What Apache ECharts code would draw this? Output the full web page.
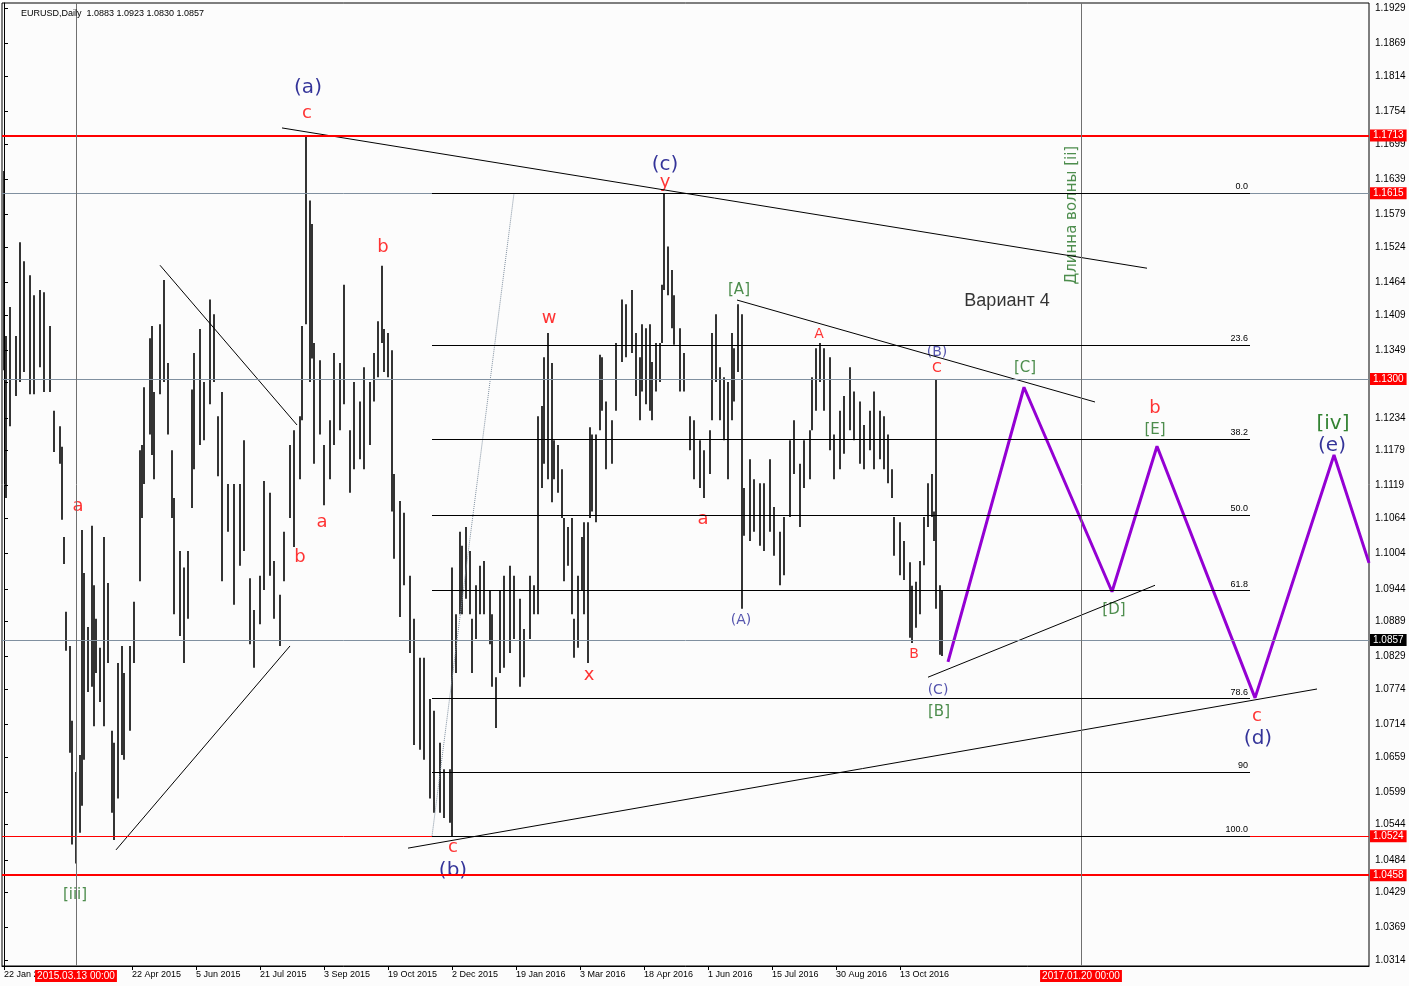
<!DOCTYPE html>
<html>
<head>
<meta charset="utf-8">
<script src="https://cdn.jsdelivr.net/npm/echarts@6/dist/echarts.min.js"></script>
<style>
html,body{margin:0;padding:0;background:#fcfcfc;}
#container{width:1409px;height:986px;}
</style>
</head>
<body>
<div id="container"></div>
<script>
// бары EURUSD Daily: индекс бара, максимум, минимум
var barIdx = [0,1,3,6,8,10,13,15,18,20,23,25,28,29,30,31,33,34,36,38,39,40,42,44,45,46,48,50,52,54,55,57,59,60,63,65,68,69,70,73,74,75,78,80,82,84,85,88,90,92,94,95,98,100,103,105,107,109,112,115,118,120,123,125,128,130,133,135,138,140,143,145,148,149,151,153,154,155,158,160,163,165,168,170,173,175,178,180,183,185,187,189,190,192,194,195,198,200,203,205,208,210,213,215,218,220,223,224,226,228,229,231,233,234,236,238,240,243,244,246,248,250,253,255,258,260,263,265,267,269,270,272,274,275,277,279,280,282,284,285,287,289,290,292,293,294,296,298,299,301,304,306,309,311,314,316,318,319,321,323,324,326,328,329,330,332,334,335,338,340,343,345,348,350,353,354,356,358,360,362,364,365,367,369,370,373,375,378,380,383,385,388,390,393,395,398,400,403,404,406,408,410,413,415,418,420,423,425,428,430,433,435,438,440,442,444,445,448,450,453,454,456,458,460,462,464,465,466,468,469];
var barHigh = [1.1653,1.1373,1.1422,1.1373,1.1532,1.1500,1.1476,1.1442,1.1451,1.1447,1.1390,1.1246,1.1220,1.1185,1.1032,1.0905,1.0847,1.0720,1.0633,1.0662,1.1044,1.0971,1.0879,1.1051,1.0950,1.0893,1.0844,1.1032,1.0954,1.0703,1.0683,1.0818,1.0847,1.0801,1.0847,1.0922,1.1179,1.1188,1.1286,1.1369,1.1390,1.1278,1.1393,1.1468,1.1327,1.1179,1.1098,1.1008,1.0980,1.1008,1.1282,1.1344,1.1385,1.1295,1.1435,1.1410,1.1237,1.1278,1.1122,1.1122,1.1122,1.1196,1.0962,1.0908,1.0966,1.1127,1.1107,1.0991,1.0934,1.1041,1.1188,1.1213,1.1237,1.1390,1.1714,1.1603,1.1563,1.1361,1.1332,1.1188,1.1230,1.1344,1.1327,1.1460,1.1213,1.1295,1.1262,1.1320,1.1295,1.1344,1.1398,1.1492,1.1385,1.1378,1.1349,1.1139,1.1093,1.1073,1.0966,1.0893,1.0827,1.0827,1.0757,1.0737,1.0683,1.0638,1.0638,1.0980,1.0901,1.1041,1.1017,1.1049,1.1008,1.0893,1.0950,1.0983,1.0991,1.0942,1.0901,1.0794,1.0942,1.0966,1.0983,1.0966,1.0927,1.0876,1.0966,1.0950,1.1237,1.1254,1.1337,1.1378,1.1327,1.1196,1.1188,1.1147,1.1064,1.1049,1.1064,1.0893,1.0966,1.1032,1.1057,1.1057,1.1218,1.1206,1.1206,1.1341,1.1337,1.1262,1.1230,1.1361,1.1435,1.1427,1.1451,1.1378,1.1337,1.1393,1.1386,1.1393,1.1329,1.1361,1.1361,1.1460,1.1615,1.1525,1.1485,1.1442,1.1386,1.1344,1.1237,1.1230,1.1196,1.1179,1.1213,1.1378,1.1410,1.1320,1.1303,1.1295,1.1378,1.1352,1.1427,1.1410,1.1115,1.1164,1.1130,1.1123,1.1123,1.1164,1.1083,1.1041,1.1066,1.1196,1.1230,1.1156,1.1196,1.1213,1.1303,1.1352,1.1361,1.1352,1.1337,1.1206,1.1246,1.1271,1.1320,1.1279,1.1262,1.1222,1.1246,1.1279,1.1246,1.1237,1.1206,1.1147,1.1066,1.1057,1.1025,1.0989,1.0949,1.0956,1.0991,1.1066,1.1123,1.1139,1.1075,1.1300,1.0950,1.0942];
var barLow = [1.1315,1.1098,1.1220,1.1271,1.1295,1.1312,1.1274,1.1274,1.1320,1.1278,1.1278,1.1176,1.1156,1.1061,1.0986,1.0839,1.0666,1.0510,1.0478,1.0530,1.0576,1.0654,1.0769,1.0778,1.0711,1.0801,1.0752,1.0711,1.0818,1.0564,1.0518,1.0588,1.0662,1.0654,1.0703,1.0818,1.0957,1.1064,1.1122,1.1206,1.1171,1.1130,1.1274,1.1295,1.1206,1.1064,1.0901,1.0864,1.0818,1.0893,1.1081,1.1147,1.1188,1.1196,1.1257,1.1295,1.1135,1.0957,1.1041,1.0917,1.0983,1.1008,1.0850,1.0810,1.0884,1.0942,1.0966,1.0893,1.0847,1.0957,1.1064,1.1015,1.1130,1.1230,1.1393,1.1295,1.1335,1.1156,1.1206,1.1086,1.1130,1.1188,1.1213,1.1257,1.1107,1.1147,1.1164,1.1147,1.1188,1.1262,1.1303,1.1361,1.1312,1.1303,1.1075,1.0995,1.0896,1.0950,1.0835,1.0679,1.0671,1.0654,1.0588,1.0564,1.0564,1.0555,1.0547,1.0523,1.0801,1.0901,1.0901,1.0927,1.0901,1.0801,1.0859,1.0901,1.0901,1.0850,1.0778,1.0708,1.0801,1.0810,1.0835,1.0859,1.0778,1.0794,1.0859,1.0901,1.0901,1.1115,1.1156,1.1130,1.1091,1.1130,1.1107,1.1064,1.0957,1.0983,1.0901,1.0827,1.0844,1.0942,1.0901,1.0818,1.1064,1.1075,1.1057,1.1213,1.1246,1.1147,1.1156,1.1246,1.1329,1.1337,1.1344,1.1271,1.1230,1.1279,1.1257,1.1246,1.1230,1.1279,1.1295,1.1361,1.1451,1.1442,1.1386,1.1358,1.1279,1.1279,1.1179,1.1130,1.1115,1.1098,1.1139,1.1230,1.1295,1.1230,1.1196,1.1130,1.1230,1.1262,1.1312,1.0910,1.1034,1.1025,1.1041,1.1017,1.1008,1.1041,1.1000,1.0950,1.0967,1.1066,1.1139,1.1049,1.1115,1.1130,1.1213,1.1246,1.1295,1.1246,1.1179,1.1130,1.1147,1.1173,1.1213,1.1196,1.1156,1.1147,1.1179,1.1147,1.1164,1.1147,1.1123,1.1098,1.1000,1.0967,1.0959,1.0861,1.0852,1.0878,1.0901,1.0984,1.1049,1.1066,1.1025,1.0910,1.0832,1.0830];

// шкалы
var priceTicks = [1.1929,1.1869,1.1814,1.1754,1.1699,1.1639,1.1579,1.1524,1.1464,1.1409,1.1349,1.1294,1.1234,1.1179,1.1119,1.1064,1.1004,1.0944,1.0889,1.0829,1.0774,1.0714,1.0659,1.0599,1.0544,1.0484,1.0429,1.0369,1.0314];
var dateTickIdx = [0,64,96,128,160,192,224,256,288,320,352,384,416,448];
var dateTickText = ['22 Jan 2015','22 Apr 2015','5 Jun 2015','21 Jul 2015','3 Sep 2015','19 Oct 2015','2 Dec 2015','19 Jan 2016','3 Mar 2016','18 Apr 2016','1 Jun 2016','15 Jul 2016','30 Aug 2016','13 Oct 2016'];

// уровни
var redLevels = [1.1713, 1.0458];
var grayLevels = [1.1615, 1.1300];
var thinRedLevels = [1.0524];
var lastPrice = 1.0857;
var vLines = [36, 538.5];
var vLineText = ['2015.03.13 00:00', '2017.01.20 00:00'];

// фибо
var fibStart = 214, fibEnd = 623;
var fibHigh = 1.1615, fibLow = 1.0524;
var fibLevels = [0, 23.6, 38.2, 50, 61.8, 78.6, 90, 100];
var fibText = ['0.0','23.6','38.2','50.0','61.8','78.6','90','100.0'];

// трендовые линии [[idx, price],[idx, price]]
var trendLines = [
  [[139,1.1726],[571.5,1.1488]],
  [[366.5,1.1434],[545.5,1.1261]],
  [[202,1.0504],[656.5,1.0774]],
  [[462,1.0794],[575.5,1.0950]],
  [[78,1.1493],[146.5,1.1222]],
  [[56,1.0501],[143,1.0847]]
];
var dottedLine = [[214,1.0524],[255,1.1615]];
var purplePath = [[472,1.0820],[510,1.1286],[554,1.0939],[576.5,1.1186],[625.5,1.0759],[665,1.1171],[682.5,1.0988]];

// разметка волн [idx, price, text, style]
var waveLabels = [
  [152,1.1794,'(a)','navy'],[151.5,1.1750,'c','red'],
  [330.5,1.1664,'(c)','navy'],[330.5,1.1634,'y','red'],
  [189.5,1.1523,'b','red'],[272.5,1.1403,'w','red'],
  [367.5,1.1450,'[A]','green'],[407.5,1.1375,'A','redS'],
  [466.5,1.1345,'(B)','blue'],[466.5,1.1318,'C','redS'],
  [501.5,1.1433,'Вариант 4','black'],
  [510.5,1.1319,'[C]','green'],[575.5,1.1250,'b','red'],[575.5,1.1213,'[E]','green'],
  [664.5,1.1224,'[iv]','greenL'],[664,1.1187,'(e)','navy'],
  [37,1.1084,'a','red'],[159,1.1057,'a','red'],[148,1.0998,'b','red'],[349.5,1.1062,'a','red'],
  [368.5,1.0891,'(A)','blue'],[292.5,1.0798,'x','red'],[455,1.0832,'B','redS'],
  [467,1.0772,'(C)','blue'],[467.5,1.0735,'[B]','green'],[555,1.0908,'[D]','green'],
  [626.5,1.0728,'c','red'],[627,1.0689,'(d)','navy'],
  [224.5,1.0506,'c','red'],[224.5,1.0465,'(b)','navy'],[35.5,1.0425,'[iii]','green']
];
var waveNote = [534,1.1578,'Длинна волны [ii]'];

var styles = {
  navy: {color:'#000080', fontSize:20, fontFamily:'DejaVu Sans'},
  red: {color:'#ff0000', fontSize:18, fontFamily:'DejaVu Sans'},
  redS: {color:'#ff0000', fontSize:14, fontFamily:'DejaVu Sans'},
  blue: {color:'#2a2a9a', fontSize:14, fontFamily:'DejaVu Sans'},
  green: {color:'#207020', fontSize:15, fontFamily:'DejaVu Sans'},
  greenL: {color:'#006400', fontSize:20, fontFamily:'DejaVu Sans'},
  black: {color:'#000000', fontSize:18, fontFamily:'Liberation Sans'}
};

var dom = document.getElementById('container');
var myChart = echarts.init(dom);

var bars = [];
for (var i = 0; i < barIdx.length; i++) {
  bars.push([barIdx[i], barLow[i], barHigh[i]]);
}

var series = [];
series.push({
  type: 'custom',
  silent: true,
  data: bars,
  encode: {x: 0, y: [1, 2]},
  renderItem: function (params, api) {
    var a = api.coord([api.value(0), api.value(1)]);
    var b = api.coord([api.value(0), api.value(2)]);
    return {type: 'line', shape: {x1: a[0], y1: a[1], x2: b[0], y2: b[1]}, style: {stroke: '#000', lineWidth: 1.6}};
  }
});

// горизонтальные и вертикальные уровни
var boxLabel = function (bg) {
  return {show: true, position: 'end', distance: 1, color: '#fff', backgroundColor: bg,
    padding: [1, 3], fontSize: 10, fontFamily: 'Liberation Sans', formatter: function (p) { return Number(p.value).toFixed(4); }};
};
var ml = [];
redLevels.forEach(function (v) { ml.push({yAxis: v, lineStyle: {color: '#ff0000', width: 2, type: 'solid'}, label: boxLabel('#ff0000')}); });
thinRedLevels.forEach(function (v) { ml.push({yAxis: v, lineStyle: {color: '#ff0000', width: 1, type: 'solid'}, label: boxLabel('#ff0000')}); });
grayLevels.forEach(function (v) { ml.push({yAxis: v, lineStyle: {color: '#8090a0', width: 1, type: 'solid'}, label: boxLabel('#ff0000')}); });
ml.push({yAxis: lastPrice, lineStyle: {color: '#8090a0', width: 1, type: 'solid'}, label: boxLabel('#000000')});
vLines.forEach(function (v, k) {
  ml.push({xAxis: v, lineStyle: {color: '#707070', width: 1, type: 'solid'},
    label: {show: true, position: 'start', distance: 4, color: '#fff', backgroundColor: '#ff0000', padding: [1, 2],
      fontSize: 10, fontFamily: 'Liberation Sans', formatter: vLineText[k]}});
});
// фибо уровни
fibLevels.forEach(function (lv, k) {
  var price = fibHigh - (fibHigh - fibLow) * lv / 100;
  ml.push([{coord: [fibStart, price], lineStyle: {color: '#000', width: 1, type: 'solid'},
    label: {show: true, position: 'insideEndTop', distance: 2, color: '#000', fontSize: 9, fontFamily: 'Liberation Sans', formatter: fibText[k]}},
    {coord: [fibEnd, price]}]);
});
series.push({type: 'line', data: [], silent: true, markLine: {symbol: 'none', precision: 4, silent: true, animation: false, data: ml}});

trendLines.forEach(function (seg) {
  series.push({type: 'line', data: seg, symbol: 'none', silent: true, lineStyle: {color: '#000', width: 1}});
});
series.push({type: 'line', data: dottedLine, symbol: 'none', silent: true, lineStyle: {color: '#8090a0', width: 1, type: 'dotted'}});
series.push({type: 'line', data: purplePath, symbol: 'none', silent: true, lineStyle: {color: '#9400d3', width: 3}});

// подписи волн
Object.keys(styles).forEach(function (key) {
  var d = waveLabels.filter(function (w) { return w[3] === key; }).map(function (w) { return {value: [w[0], w[1]], name: w[2]}; });
  var st = styles[key];
  series.push({type: 'scatter', data: d, symbolSize: 0, silent: true,
    label: {show: true, position: 'inside', formatter: '{b}', color: st.color, fontSize: st.fontSize, fontFamily: st.fontFamily}});
});
series.push({type: 'scatter', data: [{value: [waveNote[0], waveNote[1]], name: waveNote[2]}], symbolSize: 0, silent: true,
  label: {show: true, position: 'inside', rotate: 90, formatter: '{b}', color: '#207020', fontSize: 15, fontFamily: 'DejaVu Sans'}});

var option = {
  backgroundColor: '#fcfcfc',
  animation: false,
  title: {text: 'EURUSD,Daily  1.0883 1.0923 1.0830 1.0857', left: 16, top: 4,
    textStyle: {fontSize: 9, fontWeight: 'normal', color: '#000', fontFamily: 'Liberation Sans'}},
  grid: {left: 2, right: 40, top: 3, bottom: 20, show: true, borderColor: '#000', borderWidth: 1},
  xAxis: {
    type: 'value', min: -1, max: 682.5, splitLine: {show: false},
    axisLine: {onZero: false, lineStyle: {color: '#000'}},
    axisTick: {customValues: dateTickIdx, length: 4, inside: false, lineStyle: {color: '#000'}},
    axisLabel: {customValues: dateTickIdx, color: '#000', fontSize: 9, fontFamily: 'Liberation Sans', align: 'left', margin: 4,
      formatter: function (v) { var k = dateTickIdx.indexOf(v); return k >= 0 ? dateTickText[k] : ''; }}
  },
  yAxis: {
    type: 'value', position: 'right', min: 1.0304, max: 1.1938, scale: true, splitLine: {show: false},
    axisLine: {show: true, lineStyle: {color: '#000'}},
    axisTick: {customValues: priceTicks, length: 4, lineStyle: {color: '#000'}},
    axisLabel: {customValues: priceTicks, color: '#000', fontSize: 10, fontFamily: 'Liberation Sans', margin: 6,
      formatter: function (v) { return v.toFixed(4); }}
  },
  series: series
};
myChart.setOption(option);
</script>
</body>
</html>
